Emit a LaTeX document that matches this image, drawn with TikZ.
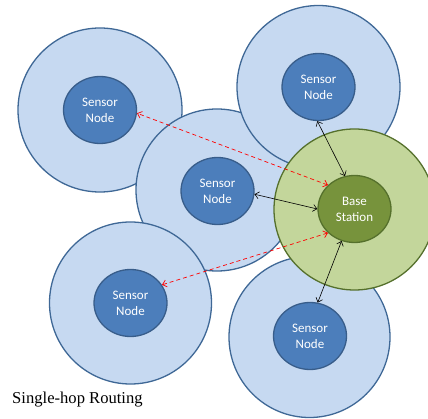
\documentclass[tikz,border=0pt]{standalone}
\usepackage{fontspec}
\setmainfont{Liberation Serif}
\newfontfamily\labelfont{Carlito}
\usetikzlibrary{shapes.geometric,arrows.meta}

\definecolor{rangefill}{HTML}{C6D9F1}
\definecolor{rangeline}{HTML}{3F6896}
\definecolor{nodefill}{HTML}{4C7EBB}
\definecolor{nodeline}{HTML}{385D8A}
\definecolor{bsrange}{HTML}{C3D69B}
\definecolor{bsline}{HTML}{55702C}
\definecolor{bsfill}{HTML}{77933C}

\tikzset{
  range/.style={circle, draw=rangeline, fill=rangefill, line width=1.3pt, inner sep=0pt, minimum size=#1},
  bsrangestyle/.style={circle, draw=bsline, fill=bsrange, line width=1.3pt, inner sep=0pt, minimum size=#1},
  sensor/.style={ellipse, draw=nodeline, fill=nodefill, line width=1.3pt, inner sep=0pt,
    minimum width=73pt, minimum height=67pt, text=white, align=center,
    font=\labelfont\fontsize{13}{16}\selectfont},
  basest/.style={sensor, draw=bsline, fill=bsfill},
  link/.style={black, line width=0.6pt, {Straight Barb[length=4pt,width=7pt]}-{Straight Barb[length=4pt,width=7pt]}},
  relay/.style={red, dashed, line width=0.7pt, dash pattern=on 4pt off 3pt, {Straight Barb[length=4pt,width=7pt]}-{Straight Barb[length=4pt,width=7pt]}}
}

\begin{document}
\begin{tikzpicture}[x=1pt,y=-1pt]
\useasboundingbox (0,0) rectangle (428,419);
\clip (0,0) rectangle (428,419);

% radio ranges, back to front
\node[range=164pt] (rtl) at (100,110) {};
\node[range=162pt] (rm)  at (217,190) {};
\node[range=163pt] (rtr) at (318.5,87) {};
\node[range=162pt] (rbl) at (130.5,303) {};
\node[range=161pt] (rbr) at (309.5,337) {};
\node[bsrangestyle=161pt] (rbs) at (354.5,209.5) {};

% sensor nodes and the base station
\node[sensor] (tl) at (100,110) {Sensor\\Node};
\node[sensor] (m)  at (217.5,191) {Sensor\\Node};
\node[sensor] (tr) at (318.5,87) {Sensor\\Node};
\node[sensor] (bl) at (130.5,303) {Sensor\\Node};
\node[sensor] (br) at (310,336) {Sensor\\Node};
\node[basest] (bs) at (354.5,209) {Base\\Station};

% direct links to the base station
\draw[link] (tr.268) -- (bs.106);
\draw[link] (m.355) -- (bs.180);
\draw[link] (bs.248) -- (br.77);

% out-of-range links
\draw[relay] (bs.138) -- (tl.355);
\draw[relay] (bs.222) -- (bl.30);

\node[anchor=base west, inner sep=0pt, font=\fontsize{16.6}{20}\selectfont] (cap) at (12,403) {Single-hop Routing};
\end{tikzpicture}
\end{document}
